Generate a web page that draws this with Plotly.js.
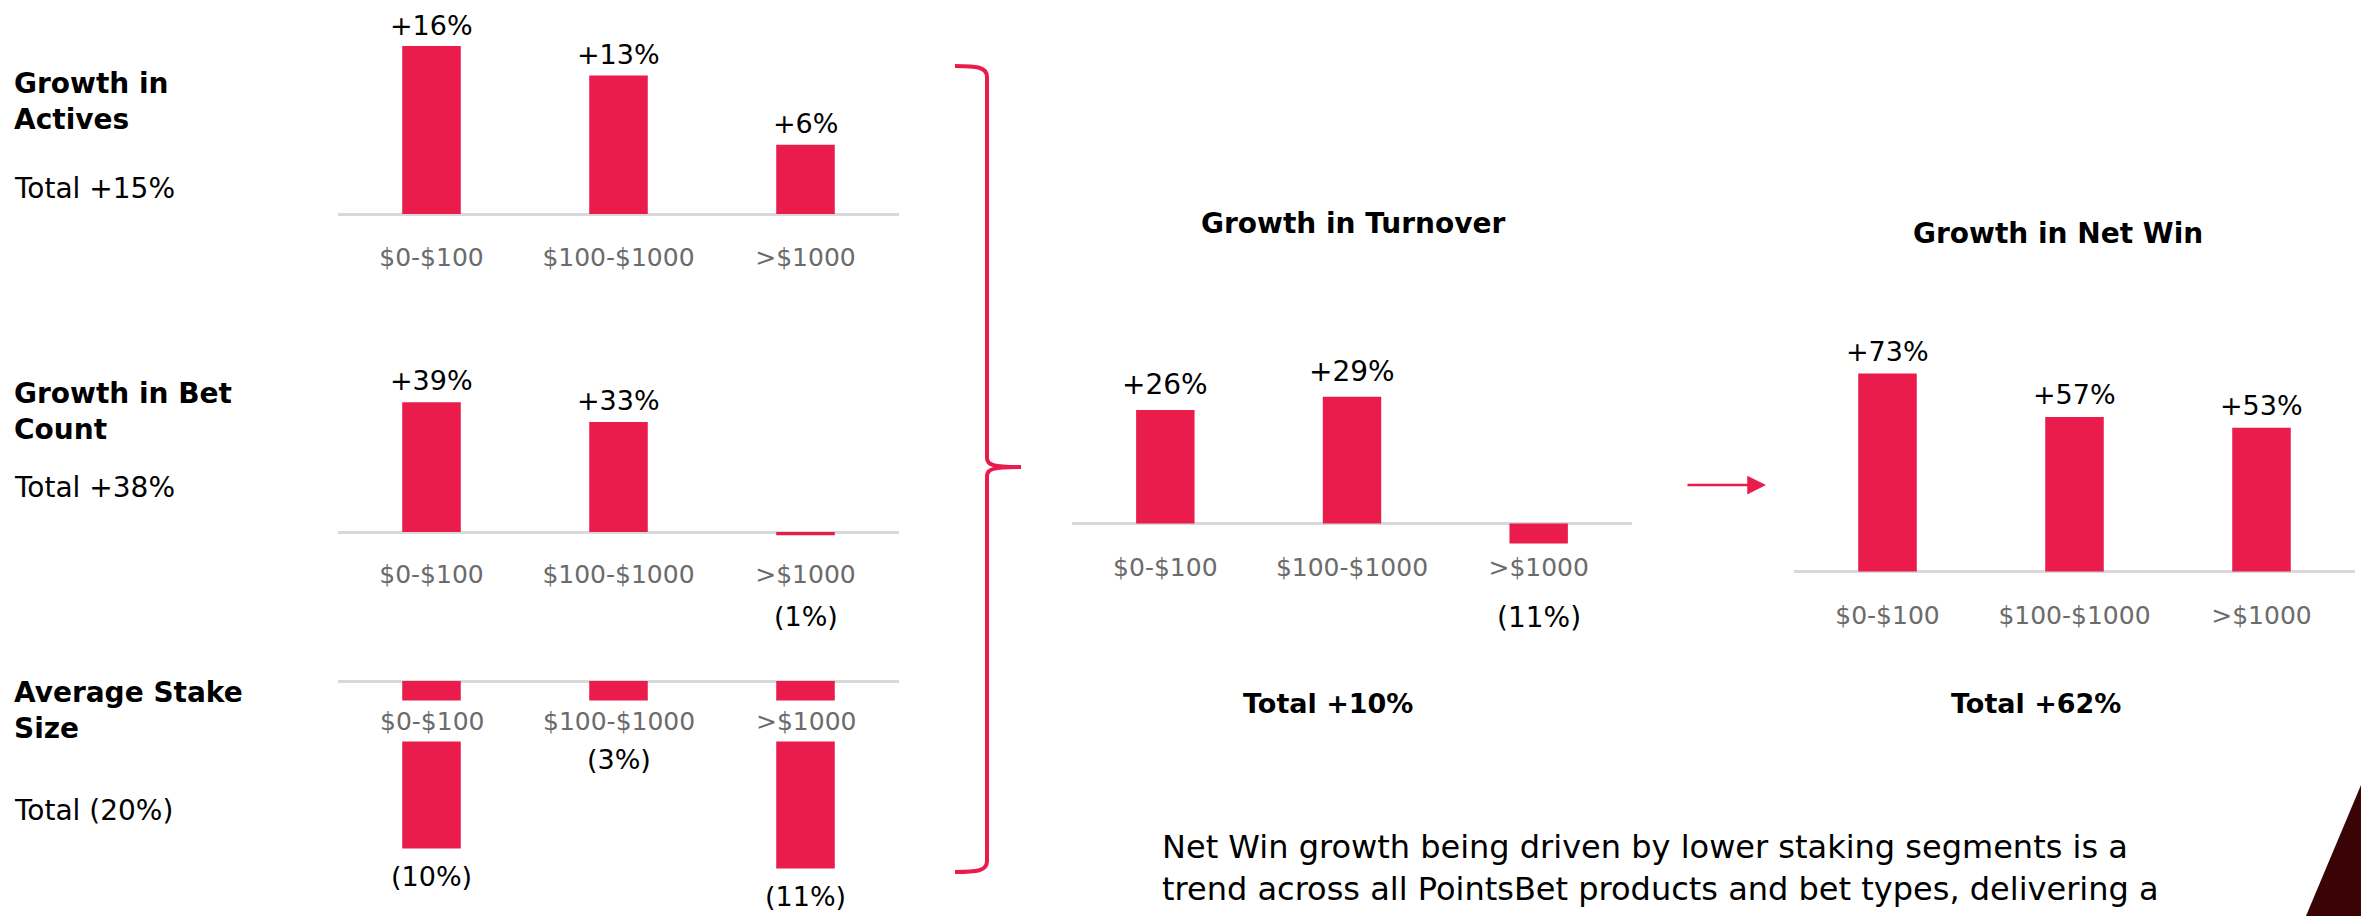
<!DOCTYPE html>
<html><head><meta charset="utf-8">
<script src="https://cdn.plot.ly/plotly-3.0.1.min.js"></script>
<style>html,body{margin:0;padding:0;background:#fff;overflow:hidden}#chart{width:2361px;height:916px}</style>
</head><body><div id="chart"></div>
<script>
// ---------- data ----------
const categories = ['$0-$100', '$100-$1000', '>$1000'];

const activesValues = [16, 13.2, 6.6];
const activesLabels = ['+16%', '+13%', '+6%'];

const betCountValues = [39, 33, -1];
const betCountLabels = ['+39%', '+33%', '(1%)'];

const stakeValues = [-10, -3, -11.2];
const stakeLabels = ['(10%)', '(3%)', '(11%)'];

const turnoverValues = [26, 29, -4.6];
const turnoverLabels = ['+26%', '+29%', '(11%)'];

const netWinValues = [73, 57, 53];
const netWinLabels = ['+73%', '+57%', '+53%'];

const leftTitles = ['Growth in<br>Actives', 'Growth in Bet<br>Count', 'Average Stake<br>Size'];
const leftTotals = ['Total +15%', 'Total +38%', 'Total (20%)'];
const turnoverTitle = 'Growth in Turnover';
const turnoverTotal = 'Total +10%';
const netWinTitle = 'Growth in Net Win';
const netWinTotal = 'Total +62%';
const commentary = 'Net Win growth being driven by lower staking segments is a<br>trend across all PointsBet products and bet types, delivering a<br>more sustainable and valuable revenue base';

// ---------- layout helpers ----------
const W = 2361, H = 916;
const RED = '#E91C4B';
const FONT = 'DejaVu Sans, sans-serif';
const fx = px => px / W;
const fy = py => 1 - py / H;

const panels = [
  {id: '',  values: activesValues,  labels: activesLabels,  x0: 338,  x1: 899,  zero: 214,   ppu: 10.5,  top: 20,  tickY: 256, lf: 27, ls: 21, neg: 'bar'},
  {id: '2', values: betCountValues, labels: betCountLabels, x0: 338,  x1: 899,  zero: 532,   ppu: 3.33,  top: 360, tickY: 573, lf: 27, ls: 22, neg: 'tick', negShift: 84},
  {id: '3', values: stakeValues,    labels: stakeLabels,    x0: 338,  x1: 899,  zero: 681,   ppu: 16.75, top: 660, tickY: 721, lf: 27, ls: 21, neg: 'bar', bgTicks: true},
  {id: '4', values: turnoverValues, labels: turnoverLabels, x0: 1072, x1: 1632, zero: 523.5, ppu: 4.37,  top: 380, tickY: 566, lf: 28, ls: 25, neg: 'tick', negShift: 94},
  {id: '5', values: netWinValues,   labels: netWinLabels,   x0: 1794, x1: 2355, zero: 571.4, ppu: 2.71,  top: 340, tickY: 614, lf: 27, ls: 22, neg: 'bar'}
];

const data = [];
const annotations = [];
const layout = {
  width: W, height: H,
  margin: {l: 0, r: 0, t: 0, b: 0, pad: 0},
  paper_bgcolor: '#ffffff', plot_bgcolor: 'rgba(0,0,0,0)',
  showlegend: false,
  bargap: 0.687,
  font: {family: FONT, color: '#000'},
  annotations: annotations,
  shapes: []
};

panels.forEach(p => {
  const bottom = p.bgTicks ? 905 : p.tickY - 16;
  const xr = 'x' + p.id, yr = 'y' + p.id;
  layout['xaxis' + p.id] = {
    domain: [fx(p.x0), fx(p.x1)], anchor: yr, type: 'category',
    showgrid: false, zeroline: false, showline: false, ticks: '',
    showticklabels: !p.bgTicks,
    tickfont: {family: FONT, size: 25, color: '#6b6b6b'},
    fixedrange: true
  };
  layout['yaxis' + p.id] = {
    domain: [fy(bottom), fy(p.top)], anchor: xr,
    range: [(p.zero - bottom) / p.ppu, (p.zero - p.top) / p.ppu],
    showgrid: false, showticklabels: false, ticks: '', showline: false,
    zeroline: true, zerolinecolor: '#d9d9d9', zerolinewidth: 3,
    fixedrange: true
  };
  data.push({
    type: 'bar', x: categories, y: p.values, xaxis: xr, yaxis: yr,
    marker: {color: RED, line: {width: 0}}, hoverinfo: 'skip'
  });
  categories.forEach((c, i) => {
    const v = p.values[i];
    const a = {x: c, xref: xr, yref: yr, text: p.labels[i], showarrow: false,
               xanchor: 'center', yanchor: 'middle',
               font: {family: FONT, size: p.lf, color: '#000'}};
    if (v >= 0) { a.y = v; a.yshift = p.ls; }
    else if (p.neg === 'bar') { a.y = v; a.yshift = -28; }
    else { a.y = 0; a.yshift = -p.negShift; }
    annotations.push(a);
    if (p.bgTicks) {
      annotations.push({x: c, xref: xr, y: fy(p.tickY), yref: 'paper', text: c,
        showarrow: false, xanchor: 'center', yanchor: 'middle',
        bgcolor: '#ffffff', height: 40, borderpad: 0,
        font: {family: FONT, size: 25, color: '#6b6b6b'}});
    }
  });
});

// left-hand titles
const leftTitleY = [101, 411, 710];
const leftTotalY = [188, 487, 810];
leftTitles.forEach((t, i) => {
  annotations.push({x: fx(12), y: fy(leftTitleY[i]), xref: 'paper', yref: 'paper', text: '<b>' + t + '</b>',
    showarrow: false, xanchor: 'left', yanchor: 'middle', align: 'left',
    font: {family: FONT, size: 28, color: '#000'}});
  annotations.push({x: fx(12), y: fy(leftTotalY[i]), xref: 'paper', yref: 'paper', text: leftTotals[i],
    showarrow: false, xanchor: 'left', yanchor: 'middle', align: 'left',
    font: {family: FONT, size: 28, color: '#000'}});
});

// middle / right titles
[[turnoverTitle, 1353, 223, 28], [turnoverTotal, 1328, 703, 27], [netWinTitle, 2058, 233, 28], [netWinTotal, 2036, 703, 27]].forEach(([t, x, y, s]) => {
  annotations.push({x: fx(x), y: fy(y), xref: 'paper', yref: 'paper', text: '<b>' + t + '</b>',
    showarrow: false, xanchor: 'center', yanchor: 'middle',
    font: {family: FONT, size: s, color: '#000'}});
});

// commentary
annotations.push({x: fx(1160), y: fy(826), xref: 'paper', yref: 'paper', text: commentary,
  showarrow: false, xanchor: 'left', yanchor: 'top', align: 'left',
  font: {family: FONT, size: 32, color: '#000'}});

// arrow
annotations.push({x: fx(1766), y: fy(485), xref: 'paper', yref: 'paper', text: '',
  showarrow: true, ax: -80, ay: 0, arrowhead: 2, arrowsize: 1.5, arrowwidth: 2.5,
  arrowcolor: RED, standoff: 0});

// bracket
const P = (x, y) => fx(x).toFixed(5) + ',' + fy(y).toFixed(5);
const bracket = 'M' + P(955, 66) + ' C' + P(977, 66) + ' ' + P(987, 67) + ' ' + P(987, 77) +
  ' L' + P(987, 458) + ' C' + P(987, 465) + ' ' + P(993, 467) + ' ' + P(1021, 467) +
  ' M' + P(1021, 467) + ' C' + P(993, 467) + ' ' + P(987, 469) + ' ' + P(987, 476) +
  ' L' + P(987, 861) + ' C' + P(987, 871) + ' ' + P(977, 872) + ' ' + P(955, 872);
layout.shapes.push({type: 'path', xref: 'paper', yref: 'paper', path: bracket,
  line: {color: RED, width: 4}, fillcolor: 'rgba(0,0,0,0)'});

// corner triangle
layout.shapes.push({type: 'path', xref: 'paper', yref: 'paper',
  path: 'M' + P(2306, 916) + ' L' + P(2361, 785) + ' L' + P(2361, 916) + ' Z',
  line: {width: 0}, fillcolor: '#3a0305'});

Plotly.newPlot('chart', data, layout, {displayModeBar: false, staticPlot: true});
</script>
</body></html>
